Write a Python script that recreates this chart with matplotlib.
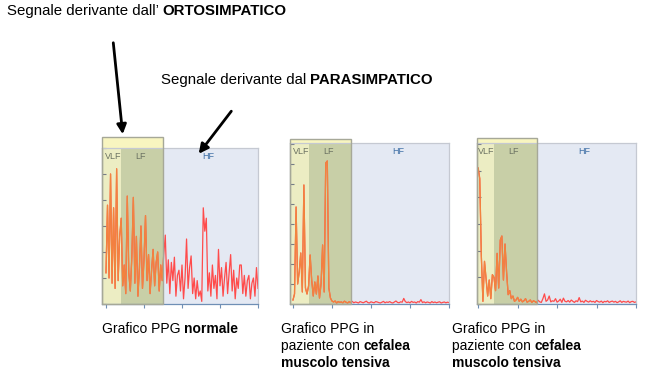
import numpy as np
import matplotlib.pyplot as plt
from matplotlib.patches import Rectangle
import matplotlib.transforms as mtransforms

plt.rcParams['font.family'] = ['Liberation Sans', 'DejaVu Sans']

# spectral power (one value every 0.004 Hz)
normale = [1.2, 3.8, 1.0, 5.0, 0.8, 3.7, 0.6, 5.2, 0.9, 2.6,
           3.3, 0.7, 1.5, 0.4, 4.15, 1.2, 0.5, 1.8, 4.1, 0.8,
           2.6, 0.3, 1.4, 3.0, 0.6, 1.7, 3.4, 0.9, 1.9, 0.4,
           1.3, 2.1, 0.7, 1.6, 2.0, 0.5, 1.5, 0.9, 1.9, 2.65,
           0.8, 1.7, 0.4, 1.6, 0.9, 1.8, 0.3, 1.1, 1.3, 0.5,
           1.5, 0.2, 1.0, 2.5, 0.6, 1.4, 1.85, 0.4, 1.0, 0.2,
           0.9, 0.3, 0.5, 0.1, 3.7, 2.8, 3.3, 0.5, 1.2, 0.3,
           1.5, 0.6, 1.1, 0.2, 2.1, 0.7, 1.4, 0.3, 1.0, 1.6,
           0.4, 1.2, 1.9, 0.5, 1.3, 0.2, 1.0, 0.6, 1.5, 1.5,
           0.4, 1.1, 0.3, 0.9, 1.1, 0.2, 0.8, 1.0, 0.3, 1.4,
           0.6]

cefalea_1 = [0.2, 0.5, 4.85, 1.0, 1.6, 2.55, 0.6, 5.95, 0.8, 0.5,
             0.9, 2.45, 1.2, 0.4, 1.1, 0.5, 1.4, 0.3, 1.0, 2.95,
             0.6, 7.05, 7.15, 0.8, 0.3, 0.15, 0.1, 0.15, 0.05, 0.12,
             0.08, 0.1, 0.06, 0.14, 0.09, 0.05, 0.11, 0.07, 0.13, 0.06,
             0.1, 0.08, 0.05, 0.12, 0.09, 0.06, 0.1, 0.14, 0.07, 0.05,
             0.11, 0.08, 0.06, 0.12, 0.1, 0.07, 0.05, 0.09, 0.13, 0.06,
             0.1, 0.08, 0.12, 0.07, 0.05, 0.1, 0.15, 0.08, 0.06, 0.11,
             0.09, 0.28, 0.12, 0.07, 0.1, 0.06, 0.13, 0.08, 0.1, 0.05,
             0.12, 0.09, 0.22, 0.07, 0.11, 0.06, 0.1, 0.08, 0.05, 0.12,
             0.07, 0.1, 0.06, 0.09, 0.11, 0.05, 0.08, 0.1, 0.06, 0.09,
             0.07]

cefalea_2 = [5.1, 4.7, 1.8, 0.1, 1.6, 0.95, 0.3, 0.9, 0.2, 1.1,
             1.0, 0.5, 1.9, 0.6, 2.4, 2.55, 0.9, 2.25, 1.2, 0.35,
             0.5, 0.2, 0.3, 0.1, 0.15, 0.25, 0.1, 0.18, 0.08, 0.12,
             0.2, 0.07, 0.1, 0.15, 0.06, 0.12, 0.09, 0.05, 0.14, 0.08,
             0.06, 0.2, 0.38, 0.1, 0.15, 0.3, 0.08, 0.12, 0.1, 0.2,
             0.07, 0.11, 0.18, 0.06, 0.22, 0.1, 0.08, 0.13, 0.07, 0.15,
             0.1, 0.06, 0.12, 0.09, 0.24, 0.08, 0.11, 0.06, 0.14, 0.1,
             0.07, 0.12, 0.08, 0.1, 0.06, 0.13, 0.09, 0.07, 0.11, 0.05,
             0.1, 0.08, 0.12, 0.06, 0.09, 0.11, 0.07, 0.1, 0.05, 0.08,
             0.12, 0.06, 0.1, 0.08, 0.07, 0.11, 0.05, 0.09, 0.1, 0.06,
             0.08]

STEP = 0.004
VLF_END, LF_END, HF_END = 0.04, 0.15, 0.4
band_labels = ['VLF', 'LF', 'HF']
band_label_x = [0.02, 0.09, 0.27]

W, H = 650, 376
fig = plt.figure(figsize=(W / 100, H / 100), dpi=100)


def px_axes(x0, x1, ytop, ybot):
    return fig.add_axes([x0 / W, 1 - ybot / H, (x1 - x0) / W, (ybot - ytop) / H])


def draw_panel(ax, values, xleft, ymax, box_top):
    f = np.arange(len(values)) * STEP
    ax.set_xlim(xleft, HF_END)
    ax.set_ylim(0, ymax)
    ax.set_facecolor('#e4e9f3')
    trans = mtransforms.blended_transform_factory(ax.transData, ax.transAxes)

    # highlight box sticking out above the plot
    box = Rectangle((xleft, 0), LF_END - xleft, box_top, transform=trans,
                    facecolor='#f8f5c0', edgecolor='none', clip_on=False, zorder=0.5)
    ax.add_patch(box)
    ax.axvspan(xleft, VLF_END, color='#ecedc3', lw=0, zorder=1)
    ax.axvspan(VLF_END, LF_END, color='#c8cfa7', lw=0, zorder=1)

    ax.plot(f, values, color='#ff4b4b', lw=0.9, zorder=2)
    hl = ax.plot(f, values, color='#f2843e', lw=0.9, zorder=2.1)[0]
    clip = Rectangle((xleft, 0), LF_END - xleft, box_top, transform=trans,
                     fill=False, edgecolor='none')
    ax.add_patch(clip)
    hl.set_clip_path(clip)

    ax.add_patch(Rectangle((xleft, 0), LF_END - xleft, box_top, transform=trans,
                           fill=False, edgecolor='#a6a898', lw=1.0,
                           clip_on=False, zorder=4))

    for lab, lx in zip(band_labels, band_label_x):
        col = '#3d6ea5' if lab == 'HF' else '#6b7262'
        ax.text(lx, 0.945, lab, transform=trans, ha='center', va='center',
                fontsize=6.5, color=col, zorder=5)

    ax.set_xticks([0, 0.1, 0.2, 0.3, 0.4])
    ax.set_yticks(np.arange(0, int(ymax) + 1))
    ax.tick_params(axis='y', direction='in', length=3, width=0.8,
                   color='#777d86', labelleft=False)
    ax.tick_params(axis='x', direction='out', length=3, width=0.8,
                   color='#6f8fb5', labelbottom=False)
    ax.spines['left'].set_color('#868b94')
    ax.spines['bottom'].set_color('#6f8fb5')
    for s in ['top', 'right']:
        ax.spines[s].set_color('#c5c9d2')
    for s in ax.spines.values():
        s.set_linewidth(0.9)


ax1 = px_axes(102, 258, 148, 304)
draw_panel(ax1, normale, -0.0105, 6, (304 - 137) / (304 - 148))

ax2 = px_axes(290, 449, 143, 304)
draw_panel(ax2, cefalea_1, -0.0076, 8.05, (304 - 139) / (304 - 143))

ax3 = px_axes(477, 636, 143, 304)
draw_panel(ax3, cefalea_2, -0.003, 6.04, (304 - 138) / (304 - 143))


def rich_line(x, y, normal, bold, size):
    t = fig.text(x / W, 1 - y / H, normal, fontsize=size, va='baseline', ha='left')
    if bold:
        plt.annotate(bold, xy=(1, 0), xycoords=t, va='bottom', ha='left',
                     fontsize=size, fontweight='bold')
    return t


rich_line(7, 15, 'Segnale derivante dall’ ', 'ORTOSIMPATICO', 10.8)
rich_line(161, 84, 'Segnale derivante dal ', 'PARASIMPATICO', 10.8)

rich_line(102, 333, 'Grafico PPG ', 'normale', 10)
for cx in [281, 452]:
    rich_line(cx, 333, 'Grafico PPG in', '', 10)
    rich_line(cx, 350, 'paziente con ', 'cefalea', 10)
    fig.text(cx / W, 1 - 367 / H, 'muscolo tensiva', fontsize=10,
             fontweight='bold', va='baseline', ha='left')

# arrows pointing at the two frequency regions
arrow = dict(arrowstyle='-|>', lw=2.0, color='black', mutation_scale=14)
plt.annotate('', xy=(123, H - 137), xytext=(113, H - 40),
             xycoords='figure pixels', textcoords='figure pixels', arrowprops=arrow)
plt.annotate('', xy=(197, H - 156), xytext=(233, H - 109),
             xycoords='figure pixels', textcoords='figure pixels', arrowprops=arrow)

fig.savefig('out.png', dpi=100)
